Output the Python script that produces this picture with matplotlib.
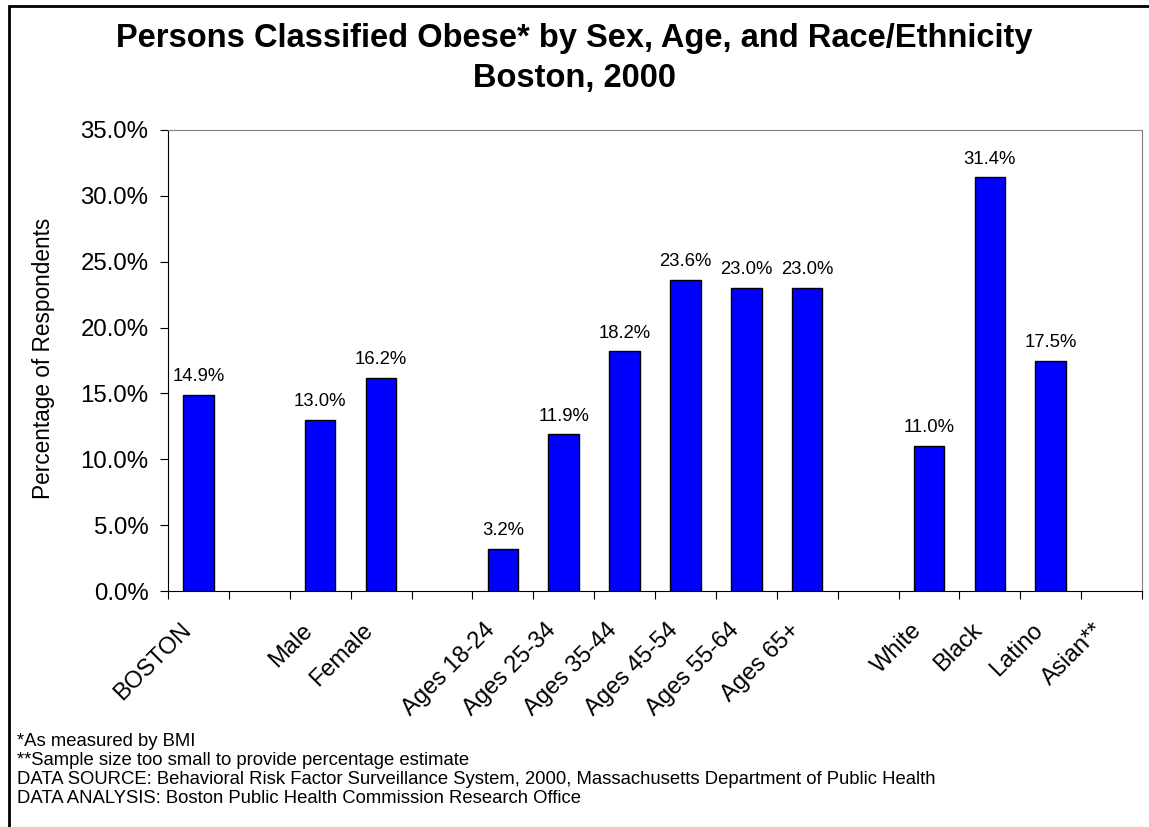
import matplotlib
matplotlib.use("Agg")
import matplotlib.pyplot as plt
import numpy as np
from matplotlib.patches import Rectangle
from matplotlib.ticker import FuncFormatter, FixedLocator
from matplotlib.transforms import ScaledTranslation

plt.rcParams['font.family'] = ['Liberation Sans', 'DejaVu Sans']

categories = ["BOSTON", "", "Male", "Female", "", "Ages 18-24", "Ages 25-34",
              "Ages 35-44", "Ages 45-54", "Ages 55-64", "Ages 65+", "",
              "White", "Black", "Latino", "Asian**"]
values = [14.9, None, 13.0, 16.2, None, 3.2, 11.9, 18.2, 23.6, 23.0, 23.0, None,
          11.0, 31.4, 17.5, None]
title_line1 = "Persons Classified Obese* by Sex, Age, and Race/Ethnicity"
title_line2 = "Boston, 2000"
ylabel = "Percentage of Respondents"
footnotes = ["*As measured by BMI",
             "**Sample size too small to provide percentage estimate",
             "DATA SOURCE: Behavioral Risk Factor Surveillance System, 2000, Massachusetts Department of Public Health",
             "DATA ANALYSIS: Boston Public Health Commission Research Office"]

W, H = 1149, 827
fig = plt.figure(figsize=(W / 100, H / 100), dpi=100)
fig.patch.set_facecolor("white")

# outer frame (right/bottom edges cut off in the reference)
fig.patches.append(Rectangle((9 / W, -0.05), 1.2, 1 - 6 / H + 0.05,
                             transform=fig.transFigure, fill=False,
                             edgecolor="black", linewidth=2, zorder=0))

left, right, top, bottom = 168, 1142, 130, 591
ax = fig.add_axes([left / W, 1 - bottom / H, (right - left) / W, (bottom - top) / H])

x = np.arange(len(categories))
vals = np.array([np.nan if v is None else v for v in values], dtype=float)
ax.bar(x, vals, width=0.5, color="#0000FF", edgecolor="black", linewidth=1.0, zorder=3)
for xi, v in zip(x, vals):
    if not np.isnan(v):
        ax.annotate(f"{v:.1f}%", (xi, v), xytext=(0, 7), textcoords="offset points",
                    ha="center", va="bottom", fontsize=13.3)

ax.set_xlim(-0.5, len(categories) - 0.5)
ax.set_ylim(0, 35)
ax.set_yticks(np.arange(0, 35.01, 5))
ax.yaxis.set_major_formatter(FuncFormatter(lambda v, p: f"{v:.1f}%"))
ax.tick_params(axis="y", labelsize=17.3, length=6, direction="out", pad=8)

ax.xaxis.set_major_locator(FixedLocator(np.arange(-0.5, len(categories), 1.0)))
ax.set_xticklabels([])
ax.set_xticks(x, minor=True)
ax.set_xticklabels(categories, minor=True, rotation=45, ha="right", va="center",
                   rotation_mode="anchor", fontsize=17)
ax.tick_params(axis="x", which="major", length=6, direction="out")
ax.tick_params(axis="x", which="minor", length=0, pad=26)
shift = ScaledTranslation(-11 / 100, 0, fig.dpi_scale_trans)
for lab in ax.get_xticklabels(minor=True):
    lab.set_transform(lab.get_transform() + shift)

for s in ["top", "right"]:
    ax.spines[s].set_color("#808080")
ax.spines["left"].set_color("black")
ax.spines["bottom"].set_color("black")

fig.text(44 / W, 1 - 358 / H, ylabel, rotation=90, ha="center", va="center", fontsize=16.3)

fig.text(0.5, 1 - 47 / H, title_line1, ha="center", va="baseline", fontsize=23.5,
         fontweight="bold")
fig.text(0.5, 1 - 87 / H, title_line2, ha="center", va="baseline", fontsize=23.5,
         fontweight="bold")

for i, line in enumerate(footnotes):
    fig.text(17 / W, 1 - (746 + 19 * i) / H, line, ha="left", va="baseline", fontsize=13.3)

fig.savefig("out.png", dpi=100)
